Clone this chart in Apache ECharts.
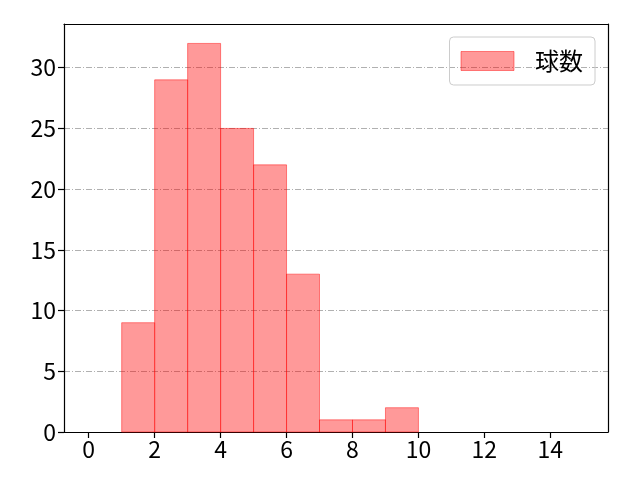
<!DOCTYPE html>
<html><head><meta charset="utf-8">
<script src="https://cdn.jsdelivr.net/npm/echarts@6/dist/echarts.min.js"></script>
<style>html,body{margin:0;padding:0;background:#fff}#c{width:640px;height:480px}</style>
</head><body><div id="c"></div>
<script>
const binStarts = [1, 2, 3, 4, 5, 6, 7, 8, 9];
const binWidth = 1;
const counts = [9, 29, 32, 25, 22, 13, 1, 1, 2];
const xTicks = [0, 2, 4, 6, 8, 10, 12, 14];
const yTicks = [0, 5, 10, 15, 20, 25, 30];
const seriesName = '球数';

const FONT = '"Noto Sans CJK JP", "Noto Sans", sans-serif';
const chart = echarts.init(document.getElementById('c'), null, {renderer: 'canvas'});
const data = binStarts.map((s, i) => [s, s + binWidth, counts[i]]);
const hidden = {axisLine:{show:true,onZero:false,lineStyle:{color:'#000',width:1.2}},axisTick:{show:false},axisLabel:{show:false},splitLine:{show:false}};
chart.setOption({
  animation: false,
  backgroundColor: '#fff',
  grid: {left: 64, right: 32, top: 24, bottom: 48},
  legend: {
    right: 45, top: 37,
    padding: [12, 12, 12, 11],
    borderColor: '#cccccc', borderWidth: 1, borderRadius: 4,
    itemWidth: 53, itemHeight: 19,
    textStyle: {fontFamily: FONT, fontSize: 24, color: '#000', padding: [0, 0, 0, 16]},
    data: [{name: seriesName, icon: 'rect', itemStyle: {color: 'rgba(255,0,0,0.4)', borderColor: 'rgba(255,0,0,0.45)', borderWidth: 1}}]
  },
  xAxis: [{
    type: 'value', min: -0.75, max: 15.75, position: 'bottom',
    axisLine: {show: true, onZero: false, lineStyle: {color: '#000', width: 1.2}},
    axisTick: {show: true, customValues: xTicks, length: 6, lineStyle: {color: '#000', width: 1.2}},
    axisLabel: {customValues: xTicks, color: '#000', fontFamily: FONT, fontSize: 23, margin: 6},
    splitLine: {show: false}
  }, Object.assign({type: 'value', min: -0.75, max: 15.75, position: 'top'}, hidden)],
  yAxis: [{
    type: 'value', min: 0, max: 33.6, interval: 5, position: 'left',
    axisLine: {show: true, onZero: false, lineStyle: {color: '#000', width: 1.2}},
    axisTick: {show: true, customValues: yTicks, length: 6, lineStyle: {color: '#000', width: 1.2}},
    axisLabel: {customValues: yTicks, color: '#000', fontFamily: FONT, fontSize: 23, margin: 8},
    splitLine: {show: true, lineStyle: {color: '#b0b0b0', width: 1, type: [6, 2, 1, 2]}}
  }, Object.assign({type: 'value', min: 0, max: 33.6, position: 'right'}, hidden)],
  series: [{
    name: seriesName,
    type: 'custom',
    data: data,
    encode: {x: [0, 1], y: 2},
    renderItem: function (params, api) {
      const p0 = api.coord([api.value(0), api.value(2)]);
      const p1 = api.coord([api.value(1), 0]);
      return {
        type: 'rect',
        shape: {x: p0[0], y: p0[1], width: p1[0] - p0[0], height: p1[1] - p0[1]},
        style: {fill: 'rgba(255,0,0,0.4)', stroke: 'rgba(255,0,0,0.45)', lineWidth: 1}
      };
    }
  }]
});
</script></body></html>
